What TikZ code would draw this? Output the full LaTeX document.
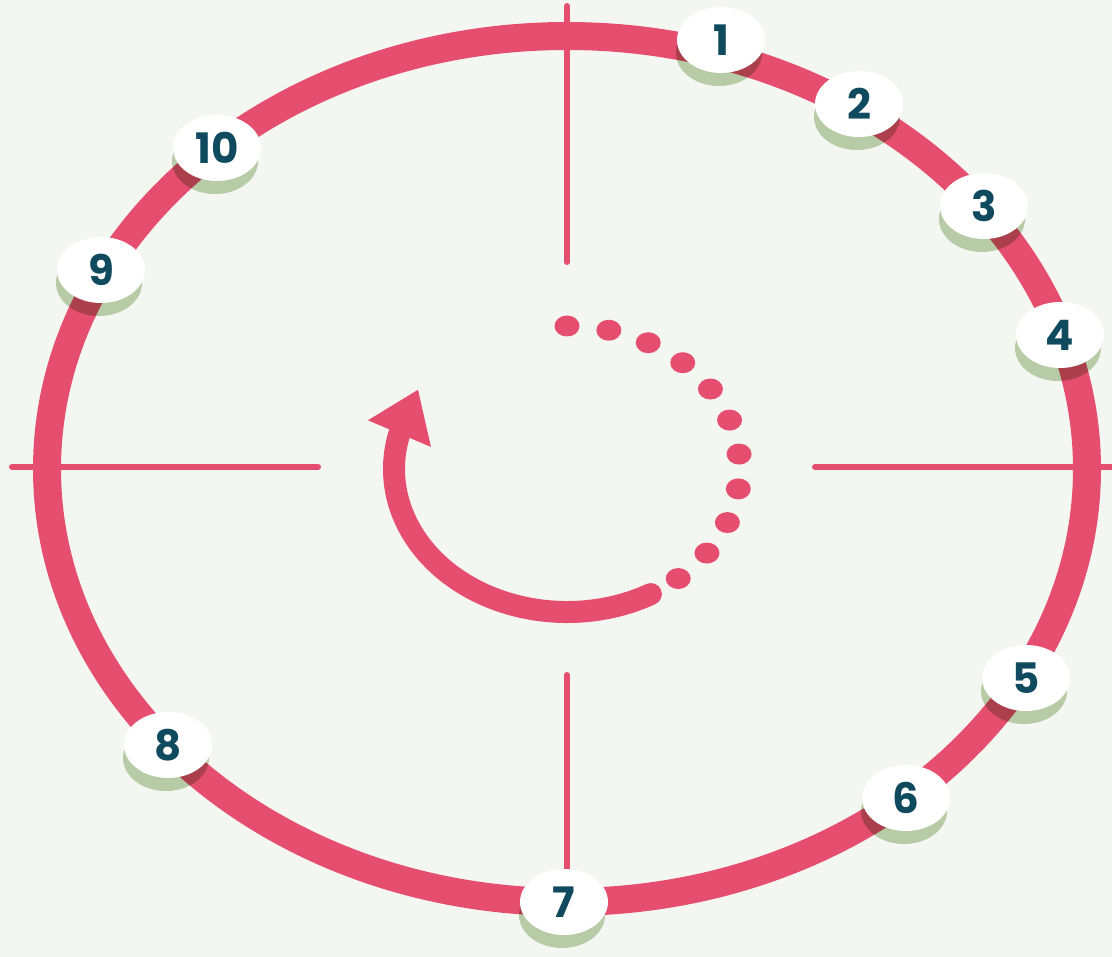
\documentclass[tikz,border=0pt]{standalone}
\usepackage{fontspec}
\setsansfont{Poppins}
\usetikzlibrary{arrows.meta,shapes.geometric}
\definecolor{ringpink}{RGB}{229,78,111}
\definecolor{bgpaper}{RGB}{244,246,241}
\definecolor{numteal}{RGB}{16,74,94}
\definecolor{shadowgreen}{RGB}{191,211,176}

\begin{document}
\begin{tikzpicture}[x=1pt,y=-1pt,
    crossline/.style={ringpink, line width=6pt, line cap=round},
    badge/.style={ellipse, fill=white, minimum width=88pt, minimum height=66pt, inner sep=0pt,
      text=numteal, font=\sffamily\bfseries\fontsize{42}{42}\selectfont},
    badgeshadow/.style={ellipse, fill=shadowgreen, blend mode=multiply,
      minimum width=86pt, minimum height=66pt, inner sep=0pt}]
    \fill[bgpaper] (0,0) rectangle (1112,957);
    \useasboundingbox (0,0) rectangle (1112,957);
    % cross hairs
    \draw[crossline] (12,467) -- (318,467);
    \draw[crossline] (815,467) -- (1112,467);
    \draw[crossline] (567,6) -- (567,262);
    \draw[crossline] (567,675) -- (567,895);
    % outer ring
    \draw[ringpink, line width=28pt] (567,469) ellipse [x radius=520, y radius=433];
    % turning arrow and dots
    \draw[ringpink, line width=22pt, line cap=round, -{Triangle[width=65pt,length=48pt]}]
      (567,469) ++(61:173 and 143) arc [start angle=61, end angle=194, x radius=173, y radius=143]
      -- ++(19,-45);
    \foreach \a in {-90,-76,...,50}
      \fill[ringpink] (567,469) ++(\a:173 and 143) ellipse [x radius=12.5, y radius=10.5];
    % numbered badges
    \foreach \n/\bx/\by in {1/721/40, 2/859/104, 3/984/206, 4/1060/335, 5/1026/678,
        6/906/798, 7/564/902, 8/168/745, 9/101/270, 10/217/148} {
      \node[badgeshadow] (shadow\n) at (\bx-2,\by+13) {};
      \node[badge] (badge\n) at (\bx,\by) {\n};
    }
\end{tikzpicture}
\end{document}
